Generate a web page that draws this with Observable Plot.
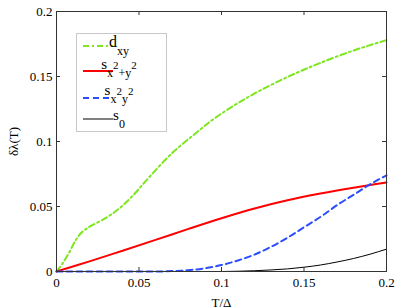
<!DOCTYPE html>
<html>
<head>
<meta charset="utf-8">
<script src="https://cdn.jsdelivr.net/npm/d3@7"></script>
<script src="https://cdn.jsdelivr.net/npm/@observablehq/plot@0.6"></script>
<style>
  html, body { margin: 0; padding: 0; background: #fff; }
  #chart { width: 399px; height: 308px; }
  #chart svg, #chart svg text, #chart svg tspan { font-family: "Liberation Serif", "DejaVu Serif", serif !important; }
</style>
</head>
<body>
<div id="chart"></div>
<script>
// ---- data ----
const dxyT = [0, 0.0036, 0.0073, 0.0115, 0.0145, 0.0194, 0.0297, 0.0376, 0.046, 0.0558, 0.07, 0.084, 0.096, 0.1145, 0.13, 0.145, 0.16, 0.18, 0.2];
const dxyV = [0, 0.006, 0.0138, 0.0238, 0.029, 0.034, 0.041, 0.048, 0.058, 0.072, 0.091, 0.106, 0.118, 0.133, 0.1435, 0.1525, 0.1605, 0.170, 0.178];

const sx2py2T = [0, 0.02, 0.04, 0.06, 0.08, 0.1, 0.12, 0.14, 0.16, 0.18, 0.2];
const sx2py2V = [0, 0.0078, 0.016, 0.0243, 0.0328, 0.041, 0.0485, 0.0548, 0.060, 0.0645, 0.0685];

const sx2y2T = [0, 0.06, 0.07, 0.08, 0.09, 0.1, 0.11, 0.12, 0.13, 0.14, 0.15, 0.16, 0.17, 0.18, 0.19, 0.2];
const sx2y2V = [0, 0, 0.0003, 0.001, 0.0025, 0.005, 0.0085, 0.013, 0.019, 0.026, 0.034, 0.042, 0.051, 0.059, 0.067, 0.074];

const s0T = [0, 0.1, 0.11, 0.12, 0.13, 0.14, 0.15, 0.16, 0.17, 0.18, 0.19, 0.2];
const s0V = [0, 0, 0.0002, 0.0006, 0.0012, 0.002, 0.0033, 0.005, 0.0073, 0.0100, 0.0133, 0.0172];

const xTicks = [0, 0.05, 0.1, 0.15, 0.2];
const yTicks = [0, 0.05, 0.1, 0.15, 0.2];

const toRows = (t, v) => t.map((x, i) => ({x, y: v[i]}));

const W = 399, H = 308;
const mL = 56, mR = 13, mT = 11, mB = 37;
const innerW = W - mL - mR, innerH = H - mT - mB;
const FONT = "Liberation Serif, DejaVu Serif, serif";

const chart = Plot.plot({
  width: W, height: H,
  marginLeft: mL, marginRight: mR, marginTop: mT, marginBottom: mB,
  style: {fontFamily: FONT, fontSize: "13px", background: "#fff", color: "#000"},
  x: {domain: [0, 0.2]},
  y: {domain: [0, 0.2]},
  marks: [
    Plot.line(toRows(dxyT, dxyV), {x: "x", y: "y", stroke: "#7ee61e", strokeWidth: 2, strokeDasharray: "6,3,2,3", curve: "catmull-rom"}),
    Plot.line(toRows(sx2py2T, sx2py2V), {x: "x", y: "y", stroke: "#ff0000", strokeWidth: 2, curve: "catmull-rom"}),
    Plot.line(toRows(sx2y2T, sx2y2V), {x: "x", y: "y", stroke: "#2b4cff", strokeWidth: 2, strokeDasharray: "6,4", curve: "monotone-x"}),
    Plot.line(toRows(s0T, s0V), {x: "x", y: "y", stroke: "#000", strokeWidth: 1, curve: "monotone-x"}),
    Plot.tickX(xTicks, {x: d => d, insetTop: innerH - 4, stroke: "#333"}),
    Plot.tickX(xTicks, {x: d => d, insetBottom: innerH - 4, stroke: "#333"}),
    Plot.tickY(yTicks, {y: d => d, insetRight: innerW - 4, stroke: "#333"}),
    Plot.tickY(yTicks, {y: d => d, insetLeft: innerW - 4, stroke: "#333"}),
    Plot.frame({stroke: "#333"}),
    Plot.axisX({ticks: xTicks, tickSize: 0, tickPadding: 6, tickFormat: d => String(d), fontSize: 13,
      label: "T/Δ", labelAnchor: "center", labelArrow: "none", labelOffset: 35}),
    Plot.axisY({ticks: yTicks, tickSize: 0, tickPadding: 4, tickFormat: d => String(d), fontSize: 13,
      label: "δλ(T)", labelAnchor: "center", labelArrow: "none", labelOffset: 48})
  ]
});
document.getElementById("chart").appendChild(chart);

// ---- legend (drawn on top of the plot) ----
const svg = d3.select(chart);
const lg = svg.append("g").attr("font-family", FONT);
lg.append("rect").attr("x", 76.5).attr("y", 33.5).attr("width", 90).attr("height", 98)
  .attr("fill", "#fff").attr("stroke", "#c8c8c8");

const entries = [
  {ly: 46, by: 47, stroke: "#7ee61e", w: 2, dash: "6,3,2,3", parts: [["d", 0, 16], ["xy", 8, 12]]},
  {ly: 71, by: 69, stroke: "#ff0000", w: 2, dash: null, parts: [["s", 0, 15], ["x", 8, 12], ["2", -8, 11], ["+y", 8, 12], ["2", -8, 11]]},
  {ly: 98, by: 95, stroke: "#2b4cff", w: 2, dash: "6,4", parts: [["s", 0, 15], ["x", 8, 12], ["2", -8, 11], ["y", 8, 12], ["2", -8, 11]]},
  {ly: 119, by: 120, stroke: "#000", w: 1, dash: null, parts: [["s", 0, 15], ["0", 8, 12]]}
];
entries.forEach(e => {
  const ln = lg.append("line").attr("x1", 83).attr("x2", 113).attr("y1", e.ly).attr("y2", e.ly)
    .attr("stroke", e.stroke).attr("stroke-width", e.w);
  if (e.dash) ln.attr("stroke-dasharray", e.dash);
  const t = lg.append("text").attr("x", 119).attr("y", e.by).attr("fill", "#000");
  e.parts.forEach(([s, dy, fs]) => {
    t.append("tspan").attr("dy", dy).attr("font-size", fs).text(s);
  });
});
</script>
</body>
</html>
